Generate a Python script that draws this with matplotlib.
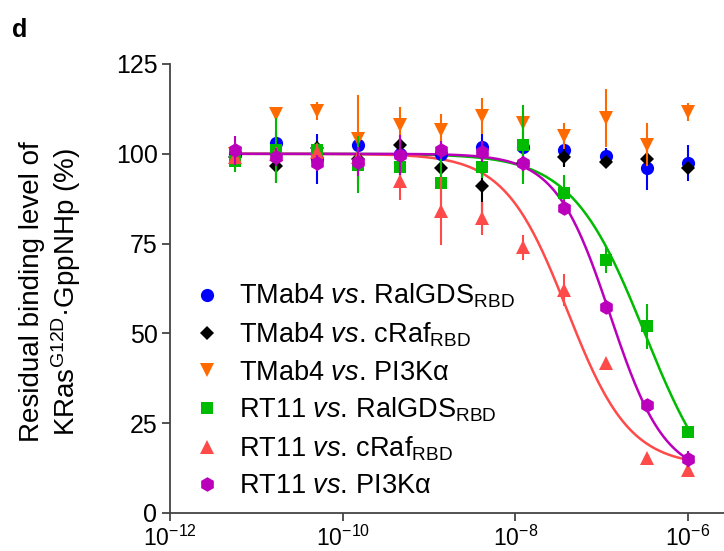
import numpy as np
import matplotlib
matplotlib.use("Agg")
import matplotlib.pyplot as plt
from matplotlib.lines import Line2D

plt.rcParams['font.family'] = ['Liberation Sans', 'DejaVu Sans']
plt.rcParams['mathtext.fontset'] = 'custom'
plt.rcParams['mathtext.rm'] = 'Liberation Sans'
plt.rcParams['mathtext.it'] = 'Liberation Sans:italic'
plt.rcParams['mathtext.bf'] = 'Liberation Sans:bold'

# ---- data -------------------------------------------------------------
# 3-fold dilution series ending at 1 uM (M)
dilution_steps = [11, 10, 9, 8, 7, 6, 5, 4, 3, 2, 1, 0]
top_conc = 1e-6
conc = np.array([top_conc / 3 ** k for k in dilution_steps])

labels = [
    r"$\mathrm{TMab4}\ \mathit{vs.}\,\mathrm{RalGDS}_{\mathrm{RBD}}$",
    r"$\mathrm{TMab4}\ \mathit{vs.}\,\mathrm{cRaf}_{\mathrm{RBD}}$",
    r"$\mathrm{TMab4}\ \mathit{vs.}\,\mathrm{PI3K}$α",
    r"$\mathrm{RT11}\ \mathit{vs.}\,\mathrm{RalGDS}_{\mathrm{RBD}}$",
    r"$\mathrm{RT11}\ \mathit{vs.}\,\mathrm{cRaf}_{\mathrm{RBD}}$",
    r"$\mathrm{RT11}\ \mathit{vs.}\,\mathrm{PI3K}$α",
]

tmab4_ralgds = [100, 103, 98.5, 102.4, 100, 100, 102, 102, 101, 99.5, 96, 97.5]
tmab4_ralgds_err = [2, 3, 7, 3, 3, 3, 3.5, 4, 4.5, 2, 6, 5]
tmab4_craf = [99, 96.5, 101.5, 98.5, 102.5, 96, 91, 97.5, 99.2, 97.8, 98.5, 96]
tmab4_craf_err = [2, 4.5, 2, 2, 2, 3, 8, 3.3, 3, 1, 1, 1]
tmab4_pi3k = [100, 111, 112, 104, 108, 106.6, 110.5, 108.5, 105, 110, 102.5, 111.7]
tmab4_pi3k_err = [3, 1, 2.5, 12.5, 5, 4.5, 5, 3, 3.7, 8, 6, 2.5]
rt11_ralgds = [98, 101, 101, 97, 96.4, 91.8, 96.4, 102.5, 89, 70.5, 52, 22.6]
rt11_ralgds_err = [3, 9, 2, 8, 3, 7, 3, 11, 5, 3.7, 6.3, 1]
rt11_craf = [99, 100, 100.6, 99, 92.5, 84, 82, 74, 62, 41.7, 15.2, 12]
rt11_craf_err = [2, 2, 2, 3, 5.5, 9.5, 4.5, 3.5, 4.5, 1, 1, 1]
rt11_pi3k = [101, 99, 97.5, 97.8, 99.7, 101, 100.6, 97.3, 85, 57.4, 30, 15]
rt11_pi3k_err = [4, 2.5, 2.3, 4, 5.5, 2.5, 3, 2, 2, 2, 1, 2.3]

# fitted dose-response curve parameters (top, bottom, logIC50, hill)
fit_rt11_ralgds = [100, 0, -6.50, 1.02]
fit_rt11_craf = [100, 13, -7.40, 1.2]
fit_rt11_pi3k = [100, 10, -6.90, 1.37]

xticks = [1e-12, 1e-10, 1e-8, 1e-6]
yticks = [0, 25, 50, 75, 100, 125]

# ---- style ------------------------------------------------------------
colors = ['#0000FF', '#000000', '#FF6A00', '#00BB00', '#FF4A4A', '#BB00BB']
markers = ['o', 'D', 'v', 's', '^', 'h']
msizes = [9.5, 7.5, 10, 9, 10, 10.5]

series = [
    (tmab4_ralgds, tmab4_ralgds_err),
    (tmab4_craf, tmab4_craf_err),
    (tmab4_pi3k, tmab4_pi3k_err),
    (rt11_ralgds, rt11_ralgds_err),
    (rt11_craf, rt11_craf_err),
    (rt11_pi3k, rt11_pi3k_err),
]
fits = {3: fit_rt11_ralgds, 4: fit_rt11_craf, 5: fit_rt11_pi3k}

W, H = 724, 551
fig = plt.figure(figsize=(W / 100, H / 100), dpi=100)
ax = fig.add_axes([170 / W, (H - 513) / H, (W - 170) / W, (513 - 64) / H])

xs = np.logspace(np.log10(conc[0]), np.log10(conc[-1]), 300)
for i, p in fits.items():
    top, bot, logic50, hill = p
    ys = bot + (top - bot) / (1 + 10 ** ((np.log10(xs) - logic50) * hill))
    ax.plot(xs, ys, color=colors[i], lw=1.8, zorder=2)

for i, (vals, errs) in enumerate(series):
    ax.errorbar(conc, vals, yerr=errs, fmt=markers[i], color=colors[i],
                ms=msizes[i], mew=0, capsize=6, elinewidth=1.5, capthick=1.5,
                zorder=3 + i, clip_on=False)

ax.set_xscale('log')
ax.set_xlim(1e-12, 10 ** (-6 + 36 / 86.3))
ax.set_ylim(0, 125)
ax.set_xticks(xticks)
ax.xaxis.set_minor_locator(matplotlib.ticker.NullLocator())
ax.set_yticks(yticks)
for s in ['top', 'right']:
    ax.spines[s].set_visible(False)
for s in ['left', 'bottom']:
    ax.spines[s].set_color('#444444')
    ax.spines[s].set_linewidth(1.3)
ax.tick_params(axis='both', which='major', length=6, width=1.3,
               color='#444444')
ax.tick_params(axis='y', pad=3, labelsize=18)
ax.tick_params(axis='x', pad=3, labelsize=16.5)

fig.text(51 / W, 1 - 292 / H,
         "Residual binding level of\nKRas$^{\\rm G12D}$·GppNHp (%)",
         rotation=90, ha='center', va='center', fontsize=20,
         multialignment='center', linespacing=1.2)

fig.text(12 / W, 1 - 30 / H, 'd', fontsize=18, fontweight='bold',
         ha='left', va='center')

handles = [Line2D([], [], linestyle='none', marker=markers[i], color=colors[i],
                  ms=msizes[i], mew=0) for i in range(6)]
ax.legend(handles, labels, loc='upper left',
          bbox_to_anchor=(193 / W, 1 - 282 / H), bbox_transform=fig.transFigure,
          frameon=False, fontsize=19.5, handlelength=1.0, handletextpad=0.7,
          labelspacing=0.38, borderpad=0, borderaxespad=0)

fig.savefig('out.png', dpi=100)
